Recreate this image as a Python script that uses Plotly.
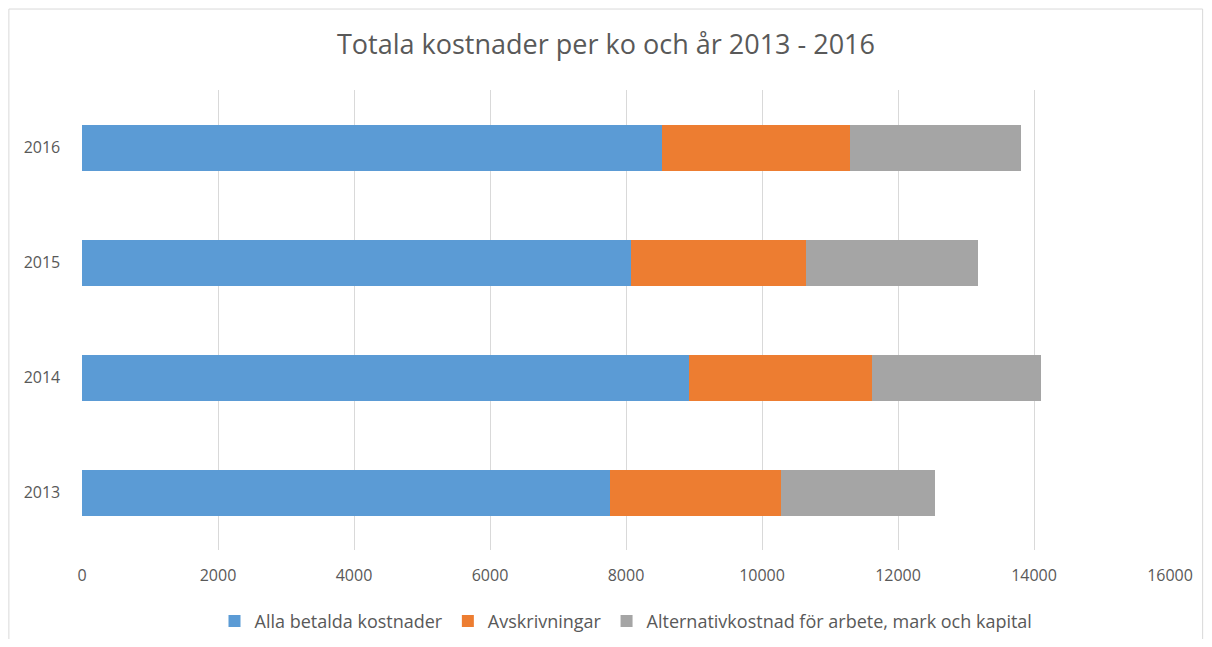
import plotly.graph_objects as go

years = ["2013", "2014", "2015", "2016"]
betalda = [7760, 8930, 8070, 8530]
avskrivningar = [2520, 2690, 2580, 2760]
alternativ = [2260, 2490, 2520, 2520]
series_names = ["Alla betalda kostnader", "Avskrivningar",
                "Alternativkostnad för arbete, mark och kapital"]
colors = ["#5B9BD5", "#ED7D31", "#A5A5A5"]
x_ticks = [0, 2000, 4000, 6000, 8000, 10000, 12000, 14000, 16000]
x_tick_text = [str(v) for v in x_ticks]

fig = go.Figure()
for name, vals, c in zip(series_names, [betalda, avskrivningar, alternativ], colors):
    fig.add_trace(go.Bar(y=years, x=vals, name=name, orientation="h",
                         marker=dict(color=c, line=dict(width=0))))

font_family = "Open Sans, Liberation Sans, sans-serif"
fig.update_layout(
    barmode="stack",
    bargap=0.6,
    width=1196, height=631,
    margin=dict(l=74, r=34, t=82, b=89, autoexpand=False),
    paper_bgcolor="white", plot_bgcolor="white",
    title=dict(text="Totala kostnader per ko och år 2013 - 2016",
               x=0.5, xanchor="center", y=1 - 37 / 631, yanchor="middle",
               font=dict(family=font_family, size=27, color="#595959")),
    font=dict(family=font_family, color="#595959", size=15),
    legend=dict(orientation="h", x=0.5, xanchor="center", y=-0.115, yanchor="top",
                font=dict(size=18, color="#595959"), traceorder="normal",
                itemwidth=30),
    xaxis=dict(range=[0, 16000], tickvals=x_ticks, ticktext=x_tick_text,
               showgrid=True, gridcolor="#D9D9D9", ticklabelstandoff=14,
               zeroline=False, showline=False, ticks="", tickfont=dict(size=16)),
    yaxis=dict(type="category", categoryorder="array", categoryarray=years,
               showgrid=False, zeroline=False, showline=False, ticks="",
               ticksuffix="     ", tickfont=dict(size=16)),
    shapes=[dict(type="rect", xref="paper", yref="paper",
                 x0=-0.0672, x1=1.03, y0=-0.3, y1=1.176,
                 line=dict(color="#D9D9D9", width=1), fillcolor="rgba(0,0,0,0)")],
)
fig.write_html("out.html")
